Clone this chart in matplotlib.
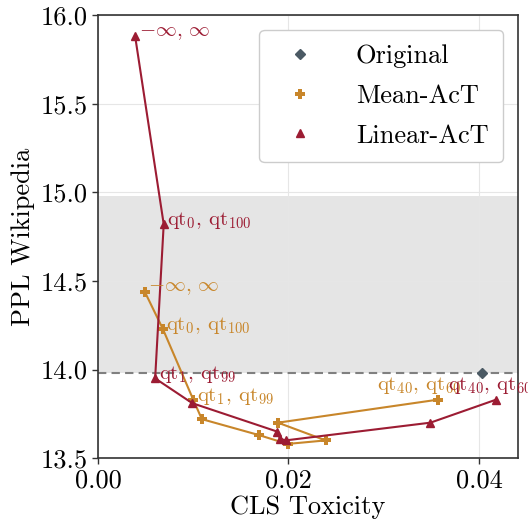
import matplotlib
matplotlib.use("Agg")
import matplotlib.pyplot as plt

plt.rcParams["font.family"] = "cmr10"
plt.rcParams["mathtext.fontset"] = "cm"
plt.rcParams["axes.formatter.use_mathtext"] = True

# toxicity / perplexity per quantile setting
orig_tox = [0.0403]
orig_ppl = [13.98]

mean_tox = [0.0049, 0.0068, 0.0100, 0.0109, 0.0169, 0.0199, 0.0239, 0.0189, 0.0357]
mean_ppl = [14.44, 14.23, 13.83, 13.72, 13.63, 13.58, 13.60, 13.70, 13.83]
mean_lbl = {0: r"$-\infty$, $\infty$", 1: r"qt$_0$, qt$_{100}$",
            2: r"qt$_1$, qt$_{99}$", 8: r"qt$_{40}$, qt$_{60}$"}

lin_tox = [0.0039, 0.0069, 0.0060, 0.0099, 0.0188, 0.0191, 0.0197, 0.0349, 0.0418]
lin_ppl = [15.88, 14.82, 13.95, 13.81, 13.65, 13.61, 13.60, 13.70, 13.83]
lin_lbl = {0: r"$-\infty$, $\infty$", 1: r"qt$_0$, qt$_{100}$",
           2: r"qt$_1$, qt$_{99}$", 8: r"qt$_{40}$, qt$_{60}$"}

band = (13.98, 14.98)

RED = "#9c1c33"
ORANGE = "#c8862a"
SLATE = "#4b5a64"

fig = plt.figure(figsize=(5.28, 5.2), dpi=100)
ax = fig.add_axes([0.1856, 0.119, 0.7955, 0.852])

ax.axhspan(band[0], band[1], color="#e5e5e5", zorder=0, lw=0)
ax.axhline(orig_ppl[0], color="#808080", ls="--", lw=1.5, dashes=(4, 2.5), zorder=1)
ax.grid(True, color="#e6e6e6", lw=0.8, zorder=0)
ax.set_axisbelow(True)

ax.plot(orig_tox, orig_ppl, ls="none", marker="D", ms=5.5, color=SLATE, zorder=4)
ax.plot(mean_tox, mean_ppl, color=ORANGE, marker="P", ms=7, mew=0, lw=1.5, zorder=3)
ax.plot(lin_tox, lin_ppl, color=RED, marker="^", ms=6, lw=1.5, zorder=3)

# legend shows markers only
ax.plot([], [], ls="none", marker="D", ms=5.5, color=SLATE, label="Original")
ax.plot([], [], ls="none", marker="P", ms=7, mew=0, color=ORANGE, label="Mean-AcT")
ax.plot([], [], ls="none", marker="^", ms=6, color=RED, label="Linear-AcT")

for xs, ys, lbls, col, last_dx in [(mean_tox, mean_ppl, mean_lbl, ORANGE, -44),
                                   (lin_tox, lin_ppl, lin_lbl, RED, -35)]:
    for i, txt in lbls.items():
        dx, dy = (last_dx, 10) if i == len(xs) - 1 else (2.5, 2.5)
        ax.annotate(txt, (xs[i], ys[i]), xytext=(dx, dy), textcoords="offset points",
                    ha="left", va="center", color=col, fontsize=15,
                    annotation_clip=False, zorder=5)

ax.set_xlim(0, 0.0441)
ax.set_ylim(13.5, 16.0)
ax.set_xticks([0.0, 0.02, 0.04])
ax.set_xticklabels(["0.00", "0.02", "0.04"])
ax.set_yticks([13.5, 14.0, 14.5, 15.0, 15.5, 16.0])
ax.set_yticklabels(["13.5", "14.0", "14.5", "15.0", "15.5", "16.0"])
ax.tick_params(labelsize=19, length=4, width=1, color="#333333")
for s in ax.spines.values():
    s.set_color("#333333")
    s.set_linewidth(1.2)

ax.set_xlabel("CLS Toxicity", fontsize=19, labelpad=2)
ax.set_ylabel("PPL Wikipedia", fontsize=19, labelpad=4)

leg = ax.legend(loc="upper right", fontsize=19, handlelength=2.0,
                bbox_to_anchor=(0.964, 0.966), borderaxespad=0, borderpad=0.55,
                handletextpad=1.1, labelspacing=0.6, framealpha=1,
                edgecolor="#cccccc", fancybox=True)
leg.get_frame().set_linewidth(1)

fig.savefig("out.png", dpi=100)
